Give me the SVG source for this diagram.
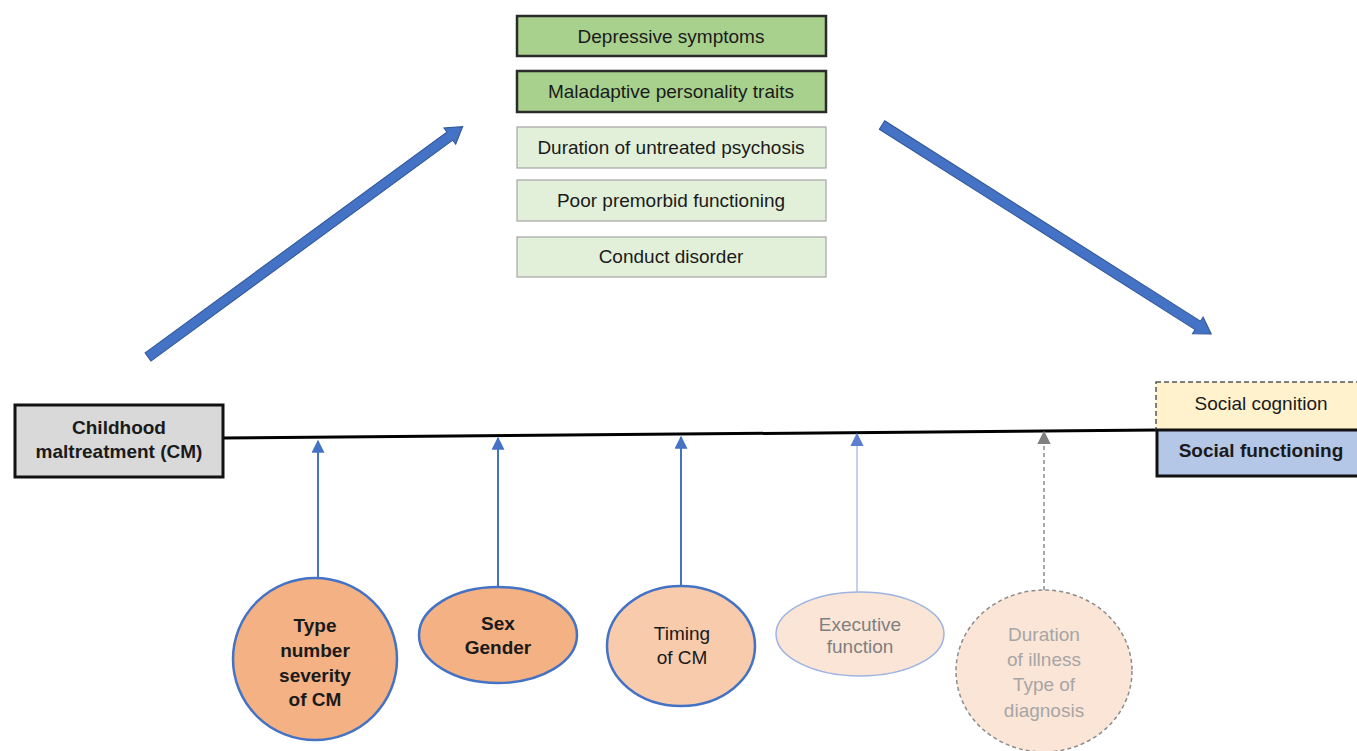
<svg xmlns="http://www.w3.org/2000/svg" width="1357" height="751" viewBox="0 0 1357 751">
<defs>
<style>
text{font-family:"Liberation Sans",Arial,sans-serif;font-size:19px;fill:#1a1a1a;text-anchor:middle}
.b{font-weight:bold}
.dark{fill:#a9d18e;stroke:#2b2b2b;stroke-width:2.5}
.light{fill:#e2f0d9;stroke:#a6a6a6;stroke-width:1.2}
.vt{stroke:#4472c4;stroke-width:2;fill:none}
.big{fill:#4472c4;stroke:#2f5597;stroke-width:1}
</style>
<marker id="ab" viewBox="0 0 10 10" refX="9" refY="5" markerWidth="6.5" markerHeight="6.5" orient="auto" markerUnits="strokeWidth"><path d="M0,0 L10,5 L0,10 z" fill="#4472c4"/></marker>
<marker id="ab2" viewBox="0 0 10 10" refX="9" refY="5" markerWidth="11" markerHeight="11" orient="auto" markerUnits="strokeWidth"><path d="M0,0 L10,5 L0,10 z" fill="#5b7fcc"/></marker>
<marker id="ag" viewBox="0 0 10 10" refX="9" refY="5" markerWidth="9" markerHeight="9" orient="auto" markerUnits="strokeWidth"><path d="M0,0 L10,5 L0,10 z" fill="#808080"/></marker>
</defs>
<rect width="1357" height="751" fill="#fff"/>

<g id="connectors">
<line x1="223" y1="438" x2="1157" y2="430" stroke="#000" stroke-width="3"/>
<g transform="translate(148,357) rotate(-36.2)"><polygon class="big" points="0,-5 374,-5 374,-10 390,0 374,10 374,5 0,5"/></g>
<g transform="translate(882,125) rotate(32.4)"><polygon class="big" points="0,-5 374,-5 374,-10 390,0 374,10 374,5 0,5"/></g>
<line class="vt" x1="318" y1="578" x2="318" y2="441" marker-end="url(#ab)"/>
<line class="vt" x1="498" y1="587" x2="498" y2="438" marker-end="url(#ab)"/>
<line class="vt" x1="681" y1="586" x2="681" y2="437" marker-end="url(#ab)"/>
<line x1="857" y1="592" x2="857" y2="434" stroke="#9db4e3" stroke-width="1.2" marker-end="url(#ab2)"/>
<line x1="1044" y1="590" x2="1044" y2="432" stroke="#8c8c8c" stroke-width="1.5" stroke-dasharray="4,3" marker-end="url(#ag)"/>
</g>

<g id="n-depressive"><rect class="dark" x="517" y="16" width="309" height="40"/><text x="671" y="43">Depressive symptoms</text></g>
<g id="n-maladaptive"><rect class="dark" x="517" y="71" width="309" height="41"/><text x="671" y="98">Maladaptive personality traits</text></g>
<g id="n-dup"><rect class="light" x="517" y="127" width="309" height="41"/><text x="671" y="154">Duration of untreated psychosis</text></g>
<g id="n-premorbid"><rect class="light" x="517" y="180" width="309" height="41"/><text x="671" y="207">Poor premorbid functioning</text></g>
<g id="n-conduct"><rect class="light" x="517" y="237" width="309" height="40"/><text x="671" y="263">Conduct disorder</text></g>

<g id="n-cm"><rect x="15" y="405" width="208" height="72" fill="#d9d9d9" stroke="#111" stroke-width="3"/><text class="b" x="119" y="434">Childhood</text><text class="b" x="119" y="458">maltreatment (CM)</text></g>

<g id="n-socialcog"><rect x="1156" y="382" width="205" height="48" fill="#fff2cc" stroke="#555" stroke-width="1.5" stroke-dasharray="5,3"/><text x="1261" y="410">Social cognition</text></g>
<g id="n-socialfun"><rect x="1157" y="430" width="204" height="46" fill="#b4c7e7" stroke="#111" stroke-width="3"/><text class="b" x="1261" y="457">Social functioning</text></g>

<g id="n-type"><ellipse cx="315" cy="659" rx="82" ry="81" fill="#f4b183" stroke="#4472c4" stroke-width="2.5"/><text class="b" x="315" y="632">Type</text><text class="b" x="315" y="657">number</text><text class="b" x="315" y="682">severity</text><text class="b" x="315" y="706">of CM</text></g>
<g id="n-sex"><ellipse cx="498" cy="635" rx="79" ry="48" fill="#f4b183" stroke="#4472c4" stroke-width="2.5"/><text class="b" x="498" y="630">Sex</text><text class="b" x="498" y="654">Gender</text></g>
<g id="n-timing"><ellipse cx="681" cy="646" rx="74" ry="60" fill="#f8cbad" stroke="#4472c4" stroke-width="2.5"/><text x="682" y="640">Timing</text><text x="682" y="664">of CM</text></g>
<g id="n-exec"><ellipse cx="860" cy="634" rx="84" ry="42" fill="#fbe5d6" stroke="#9db4e3" stroke-width="1.5"/><text x="860" y="631" style="fill:#7f7f7f">Executive</text><text x="860" y="653" style="fill:#7f7f7f">function</text></g>
<g id="n-duration"><ellipse cx="1044" cy="671" rx="88" ry="81" fill="#fbe5d6" stroke="#8c8c8c" stroke-width="1.5" stroke-dasharray="4,3"/><text x="1044" y="641" style="fill:#a6a6a6">Duration</text><text x="1044" y="666" style="fill:#a6a6a6">of illness</text><text x="1044" y="691" style="fill:#a6a6a6">Type of</text><text x="1044" y="717" style="fill:#a6a6a6">diagnosis</text></g>
</svg>
